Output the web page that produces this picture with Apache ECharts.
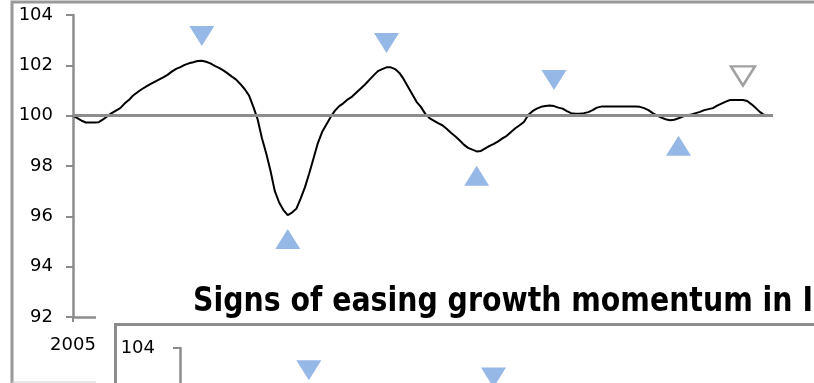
<!DOCTYPE html>
<html>
<head>
<meta charset="utf-8">
<script src="https://cdn.jsdelivr.net/npm/echarts@6/dist/echarts.min.js"></script>
<style>
html,body{margin:0;padding:0;background:#fff;}
#main{width:814px;height:383px;}
</style>
</head>
<body>
<div id="main"></div>
<script>
// ---- Data ----
// Monthly categories from 2005-01 to 2018-08
const months = [];
for (let y = 2005; y <= 2018; y++) {
  for (let m = 1; m <= 12; m++) {
    if (y === 2018 && m > 8) break;
    months.push(y + '-' + String(m).padStart(2, '0'));
  }
}
const xTickLabels = ['2005'];
const yTicks = [92, 94, 96, 98, 100, 102, 104];

// Composite leading indicator, amplitude adjusted (long-term average = 100)
const cliValues = [
  100.00, 99.90, 99.80, 99.73, 99.73, 99.73, 99.74, 99.85, 99.98, 100.10,
  100.20, 100.30, 100.48, 100.62, 100.80, 100.93, 101.05, 101.15, 101.25, 101.34,
  101.43, 101.52, 101.62, 101.75, 101.86, 101.93, 102.02, 102.08, 102.12, 102.17,
  102.18, 102.14, 102.08, 101.98, 101.90, 101.80, 101.68, 101.55, 101.43, 101.25,
  101.05, 100.80, 100.35, 99.85, 99.10, 98.50, 97.80, 97.00, 96.55, 96.25,
  96.05, 96.15, 96.30, 96.70, 97.15, 97.70, 98.30, 98.90, 99.35, 99.65,
  99.95, 100.20, 100.38, 100.50, 100.65, 100.76, 100.92, 101.08, 101.24, 101.42,
  101.60, 101.77, 101.85, 101.92, 101.92, 101.85, 101.70, 101.45, 101.15, 100.85,
  100.55, 100.35, 100.08, 99.90, 99.80, 99.70, 99.62, 99.48, 99.32, 99.18,
  99.02, 98.85, 98.72, 98.65, 98.58, 98.60, 98.70, 98.80, 98.88, 98.98,
  99.10, 99.20, 99.35, 99.50, 99.62, 99.75, 100.03, 100.18, 100.28, 100.35,
  100.38, 100.40, 100.38, 100.32, 100.28, 100.18, 100.10, 100.08, 100.08, 100.10,
  100.14, 100.22, 100.32, 100.36, 100.36, 100.36, 100.36, 100.36, 100.36, 100.36,
  100.36, 100.36, 100.35, 100.30, 100.22, 100.10, 100.00, 99.92, 99.86, 99.82,
  99.84, 99.90, 99.96, 100.02, 100.05, 100.10, 100.15, 100.22, 100.26, 100.30,
  100.40, 100.48, 100.56, 100.62, 100.62, 100.62, 100.62, 100.58, 100.45, 100.30,
  100.14, 100.02
];

// Turning-point markers: peaks (down triangles) and troughs (up triangles)
const peakMonths = ['2007-07', '2011-02', '2014-05'];
const peakValues = [103.17, 102.89, 101.42];
const tentativePeakMonths = ['2018-01'];
const tentativePeakValues = [101.58];
const troughMonths = ['2009-03', '2012-11', '2016-10'];
const troughValues = [95.10, 97.61, 98.80];

const titleText = 'Signs of easing growth momentum in India';

// ---- Chart ----
const pairs = (xs, ys) => xs.map((x, i) => [x, ys[i]]);
const AXIS = '#8c8c8c';
const BLUE = '#7aa6e0';
const FONT = '"DejaVu Sans", Verdana, sans-serif';

function yAxisCfg(gridIndex, z, margin) {
  return {
    type: 'value', gridIndex: gridIndex, min: 92, max: 104, interval: 2, z: z,
    axisLine: { show: true, lineStyle: { color: AXIS, width: 2.5 } },
    axisTick: { show: true, length: 7, lineStyle: { color: AXIS, width: 2 } },
    splitLine: { show: false },
    axisLabel: { color: '#000', fontSize: 18, fontFamily: FONT, margin: margin,
      formatter: v => (yTicks.indexOf(v) >= 0 ? String(v) : '') }
  };
}

function markerSeries(xIdx, yIdx, z) {
  return [
    { type: 'scatter', xAxisIndex: xIdx, yAxisIndex: yIdx, z: z, silent: true,
      symbol: 'triangle', symbolRotate: 180, symbolSize: [25, 20],
      itemStyle: { color: BLUE }, data: pairs(peakMonths, peakValues) },
    { type: 'scatter', xAxisIndex: xIdx, yAxisIndex: yIdx, z: z, silent: true,
      symbol: 'triangle', symbolRotate: 180, symbolSize: [24, 19],
      itemStyle: { color: '#fff', borderColor: '#8a8a8a', borderWidth: 2.5 },
      data: pairs(tentativePeakMonths, tentativePeakValues) },
    { type: 'scatter', xAxisIndex: xIdx, yAxisIndex: yIdx, z: z, silent: true,
      symbol: 'triangle', symbolSize: [25, 20],
      itemStyle: { color: BLUE }, data: pairs(troughMonths, troughValues) }
  ];
}

function lineSeries(xIdx, yIdx, z) {
  return {
    type: 'line', xAxisIndex: xIdx, yAxisIndex: yIdx, z: z, silent: true,
    data: cliValues, showSymbol: false, symbol: 'none',
    lineStyle: { color: '#000', width: 2 },
    markLine: {
      silent: true, symbol: 'none', label: { show: false },
      lineStyle: { color: AXIS, width: 3, type: 'solid' },
      data: [{ yAxis: 100 }]
    }
  };
}

const chart = echarts.init(document.getElementById('main'), null, { renderer: 'canvas' });
chart.setOption({
  animation: false,
  backgroundColor: '#fff',
  grid: [
    { left: 73, top: 15, width: 700, height: 302, outerBoundsMode: 'none', containLabel: false },
    { left: 180, top: 348, width: 700, height: 320, outerBoundsMode: 'none', containLabel: false }
  ],
  xAxis: [
    { type: 'category', gridIndex: 0, data: months, boundaryGap: false, z: 0,
      axisLine: { show: true, lineStyle: { color: AXIS, width: 2.5 } },
      axisTick: { show: true, length: 5, interval: i => i === 0, lineStyle: { color: AXIS, width: 2 } },
      axisLabel: { color: '#000', fontSize: 18, fontFamily: FONT, margin: 19,
        interval: i => i === 0, formatter: v => (v.slice(0, 4) === xTickLabels[0] ? xTickLabels[0] : '') },
      splitLine: { show: false } },
    { type: 'category', gridIndex: 1, data: months, boundaryGap: false, show: false }
  ],
  yAxis: [ yAxisCfg(0, 0, 20), yAxisCfg(1, 10, 25) ],
  graphic: {
    elements: [
      // outer frame of the first panel
      { type: 'polyline', z: 1, silent: true,
        shape: { points: [[12, 390], [12, 2], [830, 2]] },
        style: { stroke: '#999', lineWidth: 3, fill: null } },
      { type: 'line', z: 1, silent: true,
        shape: { x1: 12, y1: 382, x2: 96, y2: 382 },
        style: { stroke: '#d0d0d0', lineWidth: 1 } },
      // overlapping second panel (white cover)
      { type: 'rect', z: 5, silent: true,
        shape: { x: 96, y: 283, width: 730, height: 110 },
        style: { fill: '#fff', stroke: null } },
      { type: 'rect', z: 6, silent: true,
        shape: { x: 115.5, y: 324.5, width: 720, height: 80 },
        style: { fill: '#fff', stroke: '#8c8c8c', lineWidth: 3 } },
      { type: 'text', z: 7, silent: true, x: 193, y: 286, scaleX: 0.86,
        style: { text: titleText, fontFamily: FONT, fontWeight: 'bold', fontSize: 33,
          fill: '#000', verticalAlign: 'top', align: 'left' } }
    ]
  },
  series: [
    lineSeries(0, 0, 2),
    ...markerSeries(0, 0, 3),
    lineSeries(1, 1, 10),
    ...markerSeries(1, 1, 11)
  ]
});
</script>
</body>
</html>
